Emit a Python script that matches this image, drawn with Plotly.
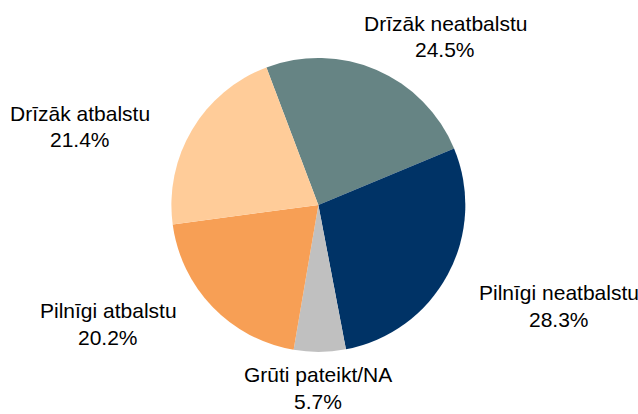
import plotly.graph_objects as go

W, H = 638, 414

# Survey answers, listed clockwise from the first slice
categories = ["Drīzāk neatbalstu", "Pilnīgi neatbalstu", "Grūti pateikt/NA",
              "Pilnīgi atbalstu", "Drīzāk atbalstu"]
shares = [24.5, 28.3, 5.7, 20.2, 21.4]

colors = ["#668484", "#003366", "#C0C0C0", "#F79F55", "#FFCC99"]

# Label block centres in pixels (x, y of the first text line)
label_px = [(445, 23), (559, 292), (318, 374), (108, 310), (80, 113)]
LINE_GAP = 27

fig = go.Figure(go.Pie(
    labels=categories,
    values=shares,
    sort=False,
    direction="clockwise",
    rotation=-20.7,
    marker=dict(colors=colors, line=dict(width=0)),
    textinfo="none",
    hoverinfo="label+value",
    showlegend=False,
    domain=dict(x=[0.268, 0.730], y=[0.150, 0.860]),
))

font = dict(family="Liberation Sans, Arial, sans-serif", size=21, color="#000000")
for name, val, (px, py) in zip(categories, shares, label_px):
    for i, line in enumerate([name, f"{val:.1f}%"]):
        fig.add_annotation(
            x=px / W, y=1 - (py + i * LINE_GAP) / H,
            xref="paper", yref="paper",
            xanchor="center", yanchor="middle",
            text=line, showarrow=False, font=font,
        )

fig.update_layout(
    width=W, height=H,
    margin=dict(l=0, r=0, t=0, b=0),
    paper_bgcolor="#FFFFFF",
    plot_bgcolor="#FFFFFF",
)

fig.write_html("out.html")
